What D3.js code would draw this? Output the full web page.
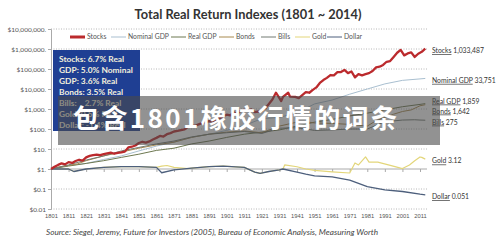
<!DOCTYPE html>
<html>
<head>
<meta charset="utf-8">
<script src="https://cdn.jsdelivr.net/npm/d3@7"></script>
<style>
    body { margin: 0; background: #fff; }
    svg { display: block; font-family: Lato, "Open Sans", sans-serif; }
</style>
</head>
<body>
<svg id="chart" width="500" height="243"></svg>
<script>
// [year, real index value], $1 invested in 1801
const stocks = [
    [1801, 1], [1803, 1.3], [1805, 1.6], [1807, 1.9], [1809, 1.7], [1811, 2.2], [1813, 2.0],
    [1815, 2.5], [1817, 2.9], [1819, 2.6], [1821, 3.8], [1823, 4.5], [1825, 4.9], [1827, 5.2],
    [1829, 5.0], [1831, 5.6], [1833, 6.1], [1835, 6.6], [1837, 5.8], [1839, 6.4], [1841, 6.8],
    [1843, 7.4], [1845, 12], [1847, 13], [1849, 15], [1851, 20], [1853, 23], [1855, 21],
    [1857, 24], [1859, 30], [1861, 36], [1863, 45], [1865, 42], [1867, 55], [1869, 62],
    [1871, 75], [1873, 80], [1875, 88], [1877, 95], [1879, 130], [1881, 150], [1883, 145],
    [1885, 170], [1887, 200], [1889, 220], [1891, 250], [1893, 240], [1895, 300], [1897, 350],
    [1899, 430], [1901, 520], [1903, 480], [1905, 680], [1907, 560], [1909, 850], [1911, 900],
    [1913, 850], [1915, 950], [1917, 700], [1919, 750], [1921, 800], [1923, 1100], [1925, 1800],
    [1927, 3000], [1929, 6500], [1931, 3500], [1932, 2500], [1933, 4000], [1936, 6500],
    [1937, 4200], [1940, 4000], [1942, 3500], [1944, 5000], [1946, 7000], [1948, 6500],
    [1950, 9000], [1952, 12000], [1954, 20000], [1956, 28000], [1958, 36000], [1960, 50000],
    [1962, 48000], [1964, 70000], [1966, 70000], [1968, 90000], [1970, 62000], [1972, 75000],
    [1974, 38000], [1976, 55000], [1978, 48000], [1980, 55000], [1982, 62000], [1984, 80000],
    [1986, 120000], [1988, 130000], [1990, 160000], [1992, 230000], [1994, 250000],
    [1996, 400000], [1998, 650000], [2000, 900000], [2002, 480000], [2004, 600000],
    [2006, 680000], [2008, 400000], [2010, 580000], [2012, 720000], [2014, 1033487]
];
const nominalGdp = [
    [1801, 1], [1811, 1.5], [1821, 1.9], [1831, 3.0], [1841, 4.5], [1851, 8], [1861, 14],
    [1871, 22], [1881, 38], [1891, 55], [1901, 85], [1911, 150], [1921, 330], [1931, 380],
    [1941, 650], [1951, 1800], [1961, 2800], [1971, 5500], [1981, 10000], [1991, 18000],
    [2001, 27000], [2011, 32000], [2014, 33751]
];
const realGdp = [
    [1801, 1], [1811, 1.4], [1821, 1.9], [1831, 2.6], [1841, 3.8], [1851, 5.5], [1861, 8.5],
    [1871, 11], [1881, 18], [1891, 25], [1901, 38], [1911, 55], [1921, 70], [1931, 90],
    [1941, 140], [1951, 220], [1961, 300], [1971, 450], [1981, 620], [1991, 900],
    [2001, 1300], [2011, 1700], [2014, 1859]
];
const bonds = [
    [1801, 1], [1806, 1.3], [1811, 1.5], [1816, 1.8], [1821, 2.6], [1831, 4.5], [1841, 7],
    [1851, 11], [1861, 16], [1871, 22], [1881, 38], [1891, 55], [1901, 70], [1911, 80],
    [1921, 65], [1931, 140], [1941, 220], [1946, 230], [1951, 200], [1961, 190], [1971, 170],
    [1981, 140], [1986, 260], [1991, 380], [1996, 550], [2001, 750], [2006, 900],
    [2011, 1450], [2014, 1642]
];
const bills = [
    [1801, 1], [1811, 1.6], [1821, 2.8], [1831, 4.5], [1841, 8], [1851, 12], [1861, 18],
    [1871, 25], [1881, 40], [1891, 55], [1901, 65], [1911, 75], [1921, 60], [1931, 110],
    [1941, 115], [1946, 100], [1951, 85], [1961, 90], [1971, 100], [1981, 100], [1991, 230],
    [2001, 280], [2008, 290], [2011, 280], [2014, 275]
];
const gold = [
    [1801, 1], [1811, 1.0], [1814, 0.75], [1821, 1.0], [1831, 1.2], [1841, 1.3], [1851, 1.3],
    [1861, 1.2], [1864, 1.4], [1867, 1.5], [1871, 1.2], [1879, 1.05], [1881, 1.1], [1891, 1.3],
    [1899, 1.4], [1911, 1.2], [1917, 0.7], [1920, 0.6], [1925, 0.75], [1931, 0.9], [1933, 1.0],
    [1934, 1.6], [1941, 1.3], [1946, 1.0], [1951, 0.85], [1961, 0.72], [1971, 0.63],
    [1974, 2.0], [1976, 1.6], [1980, 4.0], [1982, 2.2], [1987, 2.2], [1993, 1.6], [2000, 1.1],
    [2001, 1.05], [2005, 1.6], [2008, 2.6], [2011, 4.0], [2012, 3.8], [2014, 3.12]
];
const dollar = [
    [1801, 1], [1811, 1.0], [1814, 0.75], [1821, 1.0], [1831, 1.2], [1841, 1.3], [1851, 1.3],
    [1861, 1.2], [1864, 0.65], [1871, 0.9], [1881, 1.1], [1891, 1.3], [1899, 1.4], [1911, 1.2],
    [1917, 0.7], [1920, 0.6], [1925, 0.75], [1931, 0.9], [1933, 1.0], [1941, 0.7], [1946, 0.55],
    [1951, 0.45], [1961, 0.4], [1971, 0.28], [1981, 0.13], [1991, 0.09], [2001, 0.075],
    [2011, 0.055], [2014, 0.051]
];

const yTicks = [1e7, 1e6, 1e5, 1e4, 1e3, 100, 10, 1, 0.1, 0.01];
const yLabels = ["$10,000,000.", "$1,000,000.", "$100,000.", "$10,000.", "$1,000.", "$100.", "$10.", "$1.", "$0.1", "$0.01"];
const xTicks = [1801, 1811, 1821, 1831, 1841, 1851, 1861, 1871, 1881, 1891, 1901, 1911, 1921,
    1931, 1941, 1951, 1961, 1971, 1981, 1991, 2001, 2011];
const boxLines = ["Stocks: 6.7% Real", "GDP: 5.0% Nominal", "GDP: 3.6% Real", "Bonds: 3.5% Real",
    "Bills:    2.7% Real", "Gold: 0.5% Real", "Dollar: -1.4% Real"];

const series = [
    {name: "Stocks", data: stocks, color: "#bb2a2d", width: 2.3, legendX: 70},
    {name: "Nominal GDP", data: nominalGdp, color: "#a9bfd0", width: 1, legendX: 111},
    {name: "Real GDP", data: realGdp, color: "#6d7850", width: 1, legendX: 171},
    {name: "Bonds", data: bonds, color: "#a88a4e", width: 1, legendX: 219},
    {name: "Bills", data: bills, color: "#727a72", width: 1, legendX: 261},
    {name: "Gold", data: gold, color: "#e3d67a", width: 1.2, legendX: 295},
    {name: "Dollar", data: dollar, color: "#4d5f7c", width: 1.3, legendX: 327}
];

const svg = d3.select("#chart");

const x = d3.scaleLinear().domain([1801, 2011]).range([51, 420]);
const y = d3.scaleLog().domain([0.01, 1e7]).range([209, 29]);
const plotRight = 427;

// title
svg.append("text")
    .attr("x", 248).attr("y", 19)
    .attr("text-anchor", "middle")
    .attr("font-size", 12.8).attr("font-weight", 700)
    .attr("fill", "#333")
    .text("Total Real Return Indexes (1801 ~ 2014)");

// dotted gridlines
svg.append("g")
    .selectAll("line")
    .data(yTicks.filter(d => d !== 1))
    .enter().append("line")
    .attr("x1", x(1801)).attr("x2", plotRight)
    .attr("y1", d => y(d)).attr("y2", d => y(d))
    .attr("stroke", "#b8b8b8").attr("stroke-dasharray", "1,1.5");

// y axis
const yAxis = svg.append("g")
    .attr("transform", `translate(${x(1801)},0)`)
    .call(d3.axisLeft(y).tickValues(yTicks).tickSize(3).tickPadding(2)
        .tickFormat((d, i) => yLabels[i]));
yAxis.select(".domain").attr("stroke", "#aaa");
yAxis.selectAll(".tick line").attr("stroke", "#aaa");
yAxis.selectAll("text").attr("font-size", 6.5).attr("fill", "#555")
    .attr("font-family", "Lato, sans-serif");

// x axis crossing at $1 (ticks only) and labels at the bottom
const xAxis = svg.append("g")
    .attr("transform", `translate(0,${y(1)})`)
    .call(d3.axisBottom(x).tickValues(xTicks).tickSize(3).tickFormat(""));
xAxis.select(".domain").attr("stroke", "#aaa").attr("d", `M${x(1801)},0H${plotRight}`);
xAxis.selectAll(".tick line").attr("stroke", "#aaa");

const xLabels = svg.append("g")
    .attr("transform", `translate(0,${y(0.01)})`)
    .call(d3.axisBottom(x).tickValues(xTicks).tickSize(0).tickPadding(5).tickFormat(d3.format("d")));
xLabels.select(".domain").remove();
xLabels.selectAll("text").attr("font-size", 5.8).attr("fill", "#555");

// legend
const legend = svg.append("g").attr("transform", "translate(0,37)");
series.forEach(s => {
    legend.append("line")
        .attr("x1", s.legendX).attr("x2", s.legendX + 15)
        .attr("stroke", s.color).attr("stroke-width", s.name === "Stocks" ? 3 : 1);
    legend.append("text")
        .attr("x", s.legendX + 17).attr("dy", "0.35em")
        .attr("font-size", 6.8).attr("fill", "#555")
        .text(s.name);
});

// lines
const line = d3.line()
    .x(d => x(d[0]))
    .y(d => y(d[1]));

svg.append("g")
    .selectAll("path")
    .data(series.slice(1).concat(series[0]))
    .enter().append("path")
    .attr("fill", "none")
    .attr("stroke", s => s.color)
    .attr("stroke-width", s => s.width)
    .attr("stroke-linejoin", "round")
    .attr("d", s => line(s.data));

// end labels, pushed apart so they do not overlap
const ends = series.map(s => {
    const last = s.data[s.data.length - 1];
    return {name: s.name, value: last[1], pos: y(last[1]) + 2};
}).sort((a, b) => a.pos - b.pos);
for (let k = 0; k < 20; k++) {
    for (let i = 1; i < ends.length; i++) {
        const gap = ends[i].pos - ends[i - 1].pos;
        if (gap < 10) {
            const push = (10 - gap) / 2;
            ends[i].pos += push;
            ends[i - 1].pos -= push;
        }
    }
}
const endText = svg.append("g").selectAll("text")
    .data(ends)
    .enter().append("text")
    .attr("x", 432).attr("y", d => d.pos).attr("dy", "0.35em")
    .attr("font-size", 6.8).attr("fill", "#333");
endText.append("tspan").attr("text-decoration", "underline").text(d => d.name);
endText.append("tspan")
    .text(d => " " + (d.value >= 100 ? d3.format(",.0f")(d.value) : String(d.value)));

// blue summary box
svg.append("rect")
    .attr("x", 53).attr("y", 50).attr("width", 87).attr("height", 81)
    .attr("fill", "#1f3f93");
svg.append("g").selectAll("text")
    .data(boxLines)
    .enter().append("text")
    .attr("x", 59).attr("y", (d, i) => 59 + i * 11).attr("dy", "0.35em")
    .attr("font-size", 8.4).attr("font-weight", 700)
    .attr("fill", "#f4f0dc")
    .style("white-space", "pre")
    .text(d => d);

// source
svg.append("text")
    .attr("x", 46).attr("y", 235)
    .attr("font-size", 8.2).attr("font-style", "italic").attr("fill", "#444")
    .text("Source: Siegel, Jeremy, Future for Investors (2005), Bureau of Economic Analysis, Measuring Worth");

// overlay banner
svg.append("rect")
    .attr("x", 58).attr("y", 96).attr("width", 382).attr("height", 49)
    .attr("fill", "#4a4a4a").attr("opacity", 0.6);
svg.append("text")
    .attr("x", 73).attr("y", 119).attr("dy", "0.36em")
    .attr("font-family", "'Noto Sans CJK SC', sans-serif")
    .attr("font-size", 26).attr("font-weight", 700)
    .attr("fill", "#fff")
    .attr("textLength", 324).attr("lengthAdjust", "spacing")
    .text("包含1801橡胶行情的词条");
</script>
</body>
</html>
